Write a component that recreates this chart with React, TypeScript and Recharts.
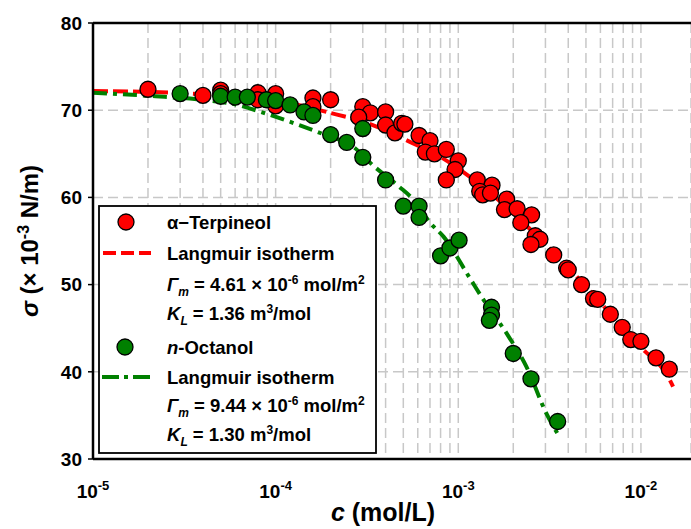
import {
  ComposedChart,
  Scatter,
  Line,
  XAxis,
  YAxis,
  CartesianGrid,
  ReferenceLine,
  Label,
} from 'recharts'

// alpha-terpineol measurements
const TERP_C = [
  2.0e-5, 4.0e-5, 5.0e-5, 5.0e-5, 8.0e-5, 8.0e-5, 1.0e-4, 1.0e-4, 1.6e-4, 1.6e-4,
  2.0e-4, 3.0e-4, 3.3e-4, 2.85e-4, 4.0e-4, 4.0e-4, 4.5e-4, 4.9e-4, 5.1e-4, 6.1e-4,
  7.0e-4, 6.6e-4, 7.4e-4, 8.6e-4, 1.0e-3, 9.6e-4, 8.6e-4, 1.27e-3, 1.53e-3, 1.31e-3,
  1.36e-3, 1.5e-3, 1.84e-3, 1.79e-3, 2.1e-3, 2.52e-3, 2.2e-3, 2.64e-3, 2.8e-3, 2.5e-3,
  3.33e-3, 3.92e-3, 4.0e-3, 4.73e-3, 5.5e-3, 5.8e-3, 6.8e-3, 7.9e-3, 8.8e-3, 1.0e-2,
  1.21e-2, 1.43e-2,
]
const TERP_SIGMA = [
  72.4, 71.7, 72.3, 71.9, 72.0, 71.2, 71.9, 70.5, 71.4, 70.4,
  71.2, 70.4, 69.7, 69.2, 69.8, 68.3, 67.4, 68.5, 68.4, 67.1,
  66.5, 65.2, 65.0, 65.5, 64.2, 63.2, 62.0, 62.0, 61.4, 60.7,
  60.3, 60.5, 59.8, 58.6, 58.7, 58.0, 57.1, 55.6, 55.2, 54.6,
  53.4, 51.9, 51.7, 50.0, 48.4, 48.3, 46.6, 45.1, 43.7, 43.5,
  41.6, 40.3,
]

// n-octanol measurements
const OCT_C = [
  3.0e-5, 5.0e-5, 6.0e-5, 7.0e-5, 8.9e-5, 1.0e-4, 1.2e-4, 1.43e-4, 1.6e-4, 2.0e-4,
  2.45e-4, 3.0e-4, 3.0e-4, 4.0e-4, 5.0e-4, 6.1e-4, 6.1e-4, 8.0e-4, 9.0e-4, 1.01e-3,
  1.52e-3, 1.52e-3, 1.48e-3, 2.0e-3, 2.5e-3, 3.5e-3,
]
const OCT_SIGMA = [
  71.9, 71.6, 71.5, 71.5, 71.2, 71.1, 70.6, 69.8, 69.4, 67.2,
  66.3, 67.9, 64.6, 62.0, 59.0, 59.0, 57.7, 53.3, 54.2, 55.1,
  47.4, 46.5, 45.9, 42.1, 39.2, 34.3,
]

// Langmuir isotherm curves
const TERP_FIT_C = [
  1e-5, 2e-5, 5e-5, 1e-4, 1.9e-4, 3.4e-4, 5.4e-4, 7.9e-4, 1.2e-3, 2.0e-3,
  3.2e-3, 4.8e-3, 8.0e-3, 1.0e-2, 1.41e-2, 1.5e-2,
]
const TERP_FIT_SIGMA = [
  72.2, 72.1, 71.7, 71.1, 69.8, 68.3, 66.4, 64.7, 62.1, 58.2,
  54.0, 50.2, 45.0, 42.8, 39.4, 38.3,
]
const OCT_FIT_C = [
  1e-5, 2.2e-5, 3.9e-5, 5.9e-5, 8.6e-5, 1.3e-4, 1.8e-4, 2.7e-4, 3.4e-4, 4.7e-4,
  5.7e-4, 7.0e-4, 8.3e-4, 1.16e-3, 1.37e-3, 1.84e-3, 2.36e-3, 3.04e-3, 3.52e-3,
]
const OCT_FIT_SIGMA = [
  72.0, 71.6, 71.2, 70.7, 69.7, 68.4, 67.3, 65.7, 63.7, 61.3,
  59.7, 57.1, 55.5, 50.7, 48.3, 44.4, 40.6, 35.2, 32.8,
]

const X_TICKS = [
  1e-5, 2e-5, 3e-5, 4e-5, 5e-5, 6e-5, 7e-5, 8e-5, 9e-5,
  1e-4, 2e-4, 3e-4, 4e-4, 5e-4, 6e-4, 7e-4, 8e-4, 9e-4,
  1e-3, 2e-3, 3e-3, 4e-3, 5e-3, 6e-3, 7e-3, 8e-3, 9e-3,
  1e-2,
]
const Y_TICKS = [30, 40, 50, 60, 70, 80]

const RED = '#ff0000'
const GREEN = '#008000'
const FONT = 'Liberation Sans, Arial, Helvetica, sans-serif'

const zip = (cs: number[], ss: number[]) => cs.map((c, i) => ({ c, sigma: ss[i] }))

const terpPts = zip(TERP_C, TERP_SIGMA)
const octPts = zip(OCT_C, OCT_SIGMA)
const terpFit = zip(TERP_FIT_C, TERP_FIT_SIGMA)
const octFit = zip(OCT_FIT_C, OCT_FIT_SIGMA)

const Dot = (color: string) => (props: any) =>
  <circle cx={props.cx} cy={props.cy} r={8} fill={color} stroke="#000" strokeWidth={1.3} />

function XTick({ x, y, payload }: any) {
  const v = payload.value
  const e = Math.round(Math.log10(v))
  if (Math.abs(v / Math.pow(10, e) - 1) > 1e-6) return <g />
  return (
    <text x={x} y={y + 31} textAnchor="middle" fontFamily={FONT} fontWeight="bold" fontSize={19} fill="#000">
      10<tspan dy={-8} fontSize={13}>{e}</tspan>
    </text>
  )
}

const YTitle = () => (
  <text x={38} y={241} transform="rotate(-90, 38, 241)" textAnchor="middle"
    fontFamily={FONT} fontWeight="bold" fontSize={24} fill="#000">
    <tspan fontStyle="italic">σ</tspan> (× 10<tspan dy={-9} fontSize={16}>-3</tspan>
    <tspan dy={9}> N/m)</tspan>
  </text>
)

const XTitle = () => (
  <text x={383} y={521} textAnchor="middle" fontFamily={FONT} fontWeight="bold" fontSize={25} fill="#000">
    <tspan fontStyle="italic">c</tspan>{'  (mol/L)'}
  </text>
)

function LegendBox() {
  const t = { fontFamily: FONT, fontWeight: 'bold' as const, fontSize: 18.5, fill: '#000' }
  const tx = 167
  return (
    <svg width={691} height={529} style={{ position: 'absolute', left: 0, top: 0, pointerEvents: 'none' }}>
      <rect x={99} y={206} width={277} height={247} fill="#fff" stroke="#000" strokeWidth={1.8} />
      <circle cx={126} cy={222} r={8} fill={RED} stroke="#000" strokeWidth={1.3} />
      <text x={tx} y={229} {...t}>α−Terpineol</text>
      <line x1={103} x2={151} y1={253} y2={253} stroke={RED} strokeWidth={4} strokeDasharray="13 5" />
      <text x={tx} y={260} {...t}>Langmuir isotherm</text>
      <text x={tx} y={291} {...t}>
        <tspan fontStyle="italic">Γ</tspan><tspan fontStyle="italic" fontSize={12} dy={5}>m</tspan>
        <tspan dy={-5}> = 4.61 × 10</tspan><tspan fontSize={12} dy={-7}>-6</tspan>
        <tspan dy={7}> mol/m</tspan><tspan fontSize={12} dy={-7}>2</tspan>
      </text>
      <text x={tx} y={320} {...t}>
        <tspan fontStyle="italic">K</tspan><tspan fontStyle="italic" fontSize={12} dy={5}>L</tspan>
        <tspan dy={-5}> = 1.36 m</tspan><tspan fontSize={12} dy={-7}>3</tspan>
        <tspan dy={7}>/mol</tspan>
      </text>
      <circle cx={125} cy={347} r={8} fill={GREEN} stroke="#000" strokeWidth={1.3} />
      <text x={tx} y={354} {...t}><tspan fontStyle="italic">n</tspan>-Octanol</text>
      <line x1={102} x2={152} y1={377} y2={377} stroke={GREEN} strokeWidth={4} strokeDasharray="17 5 4 5" />
      <text x={tx} y={384} {...t}>Langmuir isotherm</text>
      <text x={tx} y={412} {...t}>
        <tspan fontStyle="italic">Γ</tspan><tspan fontStyle="italic" fontSize={12} dy={5}>m</tspan>
        <tspan dy={-5}> = 9.44 × 10</tspan><tspan fontSize={12} dy={-7}>-6</tspan>
        <tspan dy={7}> mol/m</tspan><tspan fontSize={12} dy={-7}>2</tspan>
      </text>
      <text x={tx} y={441} {...t}>
        <tspan fontStyle="italic">K</tspan><tspan fontStyle="italic" fontSize={12} dy={5}>L</tspan>
        <tspan dy={-5}> = 1.30 m</tspan><tspan fontSize={12} dy={-7}>3</tspan>
        <tspan dy={7}>/mol</tspan>
      </text>
    </svg>
  )
}

export default function App() {
  return (
    <div style={{ position: 'absolute', left: 0, top: 0, width: 691, height: 529, overflow: 'hidden', background: '#fff' }}>
      <ComposedChart width={691} height={529} margin={{ top: 23, right: 0, bottom: 0, left: 0 }}>
        <CartesianGrid stroke="#c8c8c8" strokeWidth={1.5} strokeDasharray="10 5" />
        <XAxis
          dataKey="c"
          type="number"
          scale="log"
          domain={[1e-5, 0.0188]}
          allowDataOverflow
          ticks={X_TICKS}
          interval={0}
          tick={<XTick />}
          tickLine={false}
          axisLine={{ stroke: '#000', strokeWidth: 2.5 }}
          height={70}
        >
          <Label content={<XTitle />} />
        </XAxis>
        <YAxis
          type="number"
          domain={[30, 80]}
          ticks={Y_TICKS}
          interval={0}
          width={93}
          tickSize={5}
          tickMargin={6}
          tick={{ fontSize: 19, fontWeight: 'bold', fill: '#000', fontFamily: FONT }}
          tickLine={{ stroke: '#000', strokeWidth: 1.5 }}
          axisLine={{ stroke: '#000', strokeWidth: 2.5 }}
        >
          <Label content={<YTitle />} />
        </YAxis>
        <ReferenceLine y={80} stroke="#000" strokeWidth={2.5} />
        <Line data={terpFit} dataKey="sigma" type="monotone" stroke={RED} strokeWidth={4}
          strokeDasharray="15 5" dot={false} activeDot={false} isAnimationActive={false} />
        <Line data={octFit} dataKey="sigma" type="monotone" stroke={GREEN} strokeWidth={4}
          strokeDasharray="14 6 4 6" dot={false} activeDot={false} isAnimationActive={false} />
        <Scatter data={terpPts} dataKey="sigma" shape={Dot(RED)} isAnimationActive={false} />
        <Scatter data={octPts} dataKey="sigma" shape={Dot(GREEN)} isAnimationActive={false} />
      </ComposedChart>
      <LegendBox />
    </div>
  )
}
